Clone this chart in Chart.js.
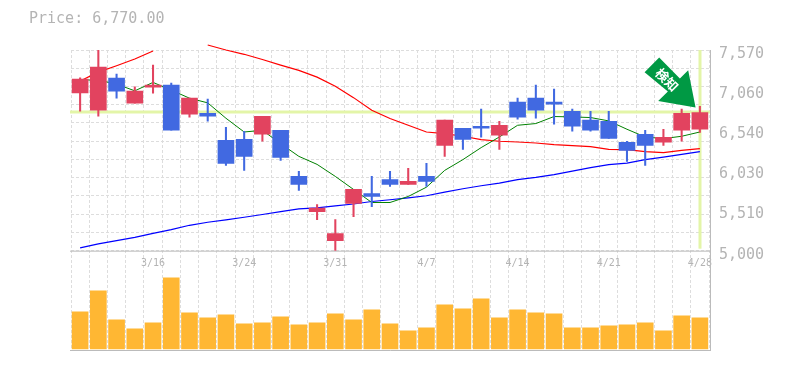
<!DOCTYPE html>
<html>
<head>
<meta charset="utf-8">
<style>html,body{margin:0;padding:0;background:#fff}canvas{display:block}</style>
<script src="https://cdn.jsdelivr.net/npm/chart.js@4"></script>
</head>
<body>
<canvas id="c" width="785" height="370"></canvas>
<script>
const dates = ["3/10","3/11","3/12","3/13","3/16","3/17","3/18","3/19","3/21","3/24","3/25","3/26","3/27","3/28","3/31","4/1","4/2","4/3","4/4","4/7","4/8","4/9","4/10","4/11","4/14","4/15","4/16","4/17","4/18","4/21","4/22","4/23","4/24","4/25","4/28"];
const shownDates = ["3/16","3/24","3/31","4/7","4/14","4/21","4/28"];
const open  = [7021,6799,7210,6889,7095,7120,6748,6760,6414,6426,6491,6542,5951,5501,5129,5604,5732,5912,5848,5951,6349,6568,6593,6478,6902,6953,6902,6786,6671,6658,6388,6491,6388,6542,6555];
const close = [7197,7352,7043,7043,7120,6542,6953,6722,6118,6208,6722,6195,5848,5544,5218,5784,5694,5848,5887,5887,6671,6426,6568,6606,6709,6799,6876,6593,6542,6439,6285,6349,6452,6760,6770];
const high  = [7214,7570,7262,7098,7377,7146,6953,6940,6581,6529,6722,6542,6015,5591,5398,5784,5951,6015,6054,6118,6671,6568,6812,6658,6953,7120,7069,6812,6786,6786,6401,6542,6555,6812,6850];
const low   = [6786,6722,6953,6889,7017,6542,6709,6658,6092,6028,6401,6157,5771,5398,5000,5437,5565,5822,5848,5822,6208,6298,6452,6298,6683,6696,6619,6529,6529,6439,6144,6092,6349,6401,6516];
const maShort = [7188,7184,7133,7047,7155,7056,6953,6893,6696,6520,6542,6371,6208,6105,5951,5784,5617,5617,5694,5813,6028,6166,6320,6456,6606,6628,6718,6713,6705,6662,6555,6456,6435,6465,6520];
const maMid = [7172,7287,7368,7454,7557,null,null,7634,7570,7515,7448,7377,7309,7223,7107,6960,6799,6692,6606,6520,6500,6465,6422,6401,6392,6379,6358,6345,6332,6298,6294,6268,6255,6285,6307];
const maLong = [5035,5086,5129,5171,5222,5270,5325,5364,5394,5428,5463,5501,5536,5549,5574,5598,5630,5652,5677,5703,5749,5793,5831,5865,5909,5938,5973,6019,6063,6101,6122,6166,6199,6234,6268];
const volume = [37,58,29,20,26,71,36,31,34,25,26,32,24,26,35,29,39,25,18,21,44,40,50,31,39,36,35,21,21,23,24,26,18,33,31];
const priceLabelValues = [5000,5514,6028,6542,7056,7570];
const priceLabels = ["5,000","5,510","6,030","6,540","7,060","7,570"];
const priceMin = 5000, priceMax = 7570, gridCount = 11;
const currentPrice = 6770;
const titleText = "Price: 6,770.00";
const arrowText = "検知";

const RED = "#E2435F", BLUE = "#4169E1", GRAY = "#BBBBBB", TEXT = "#B4B4B4", GRID = "#DDDDDD", HILITE = "#E3F5A8";
const candleColor = i => close[i] >= open[i] ? RED : BLUE;

const gridValues = [];
for (let k = 0; k <= gridCount; k++) gridValues.push(Math.round((priceMin + k * (priceMax - priceMin) / gridCount) * 1000) / 1000);
const yTicks = Array.from(new Set(gridValues.concat(priceLabelValues))).sort((a,b)=>a-b);

const frame = {
  id: "frame",
  beforeDatasetsDraw(chart) {
    const {ctx, chartArea: a, scales} = chart;
    const py = scales.y.getPixelForValue(currentPrice);
    const px = scales.x.getPixelForValue(dates[dates.length - 1]);
    const y0 = scales.y.getPixelForValue(priceMin);
    ctx.save();
    ctx.fillStyle = HILITE;
    ctx.fillRect(a.left - 1, Math.round(py) - 1.5, a.right - a.left + 2, 3);
    ctx.fillRect(Math.round(px) - 1.5, a.top, 3, y0 - a.top - 2);
    ctx.strokeStyle = GRAY; ctx.lineWidth = 1;
    ctx.beginPath();
    ctx.moveTo(a.left - 1, y0 + .5); ctx.lineTo(a.right + 1, y0 + .5);
    ctx.moveTo(a.left - 1, a.bottom - .5); ctx.lineTo(a.right + 1.5, a.bottom - .5);
    ctx.moveTo(a.right + 1.5, a.top); ctx.lineTo(a.right + 1.5, a.bottom);
    ctx.stroke();
    ctx.restore();
  },
  afterDatasetsDraw(chart) {
    const {ctx, scales} = chart;
    const last = dates.length - 1;
    const ax = scales.x.getPixelForValue(dates[last]);
    const ay = scales.y.getPixelForValue(high[last]);
    const outline = [[-40.7,-48.7],[-55.3,-34],[-32,-14.7],[-41.7,-5.3],[-4.3,1.3],[-11.7,-36],[-20,-27.7]];
    ctx.save();
    ctx.fillStyle = "#009944";
    ctx.beginPath();
    outline.forEach((p,i)=> i ? ctx.lineTo(ax+p[0], ay+p[1]) : ctx.moveTo(ax+p[0], ay+p[1]));
    ctx.closePath(); ctx.fill();
    ctx.translate(ax - 33, ay - 26.5);
    ctx.rotate(Math.PI / 4);
    ctx.fillStyle = "#fff";
    ctx.font = "bold 13px 'Noto Sans CJK JP'";
    ctx.textAlign = "center"; ctx.textBaseline = "middle";
    ctx.fillText(arrowText, 0, 0);
    ctx.restore();
    ctx.save();
    ctx.fillStyle = TEXT;
    ctx.font = "15px 'DejaVu Sans Mono'";
    ctx.textBaseline = "alphabetic";
    ctx.fillText(titleText, 29, 23);
    ctx.restore();
  }
};

new Chart(document.getElementById("c"), {
  type: "bar",
  plugins: [frame],
  data: {
    labels: dates,
    datasets: [
      {type:"bar", label:"Body", yAxisID:"y", order:0, grouped:false, barThickness:16, data:dates.map((d,i)=>[open[i],close[i]]), backgroundColor:dates.map((d,i)=>candleColor(i))},
      {type:"bar", label:"Wick", yAxisID:"y", order:1, grouped:false, barThickness:1.4, data:dates.map((d,i)=>[low[i],high[i]]), backgroundColor:dates.map((d,i)=>candleColor(i))},
      {type:"line", label:"MA short", yAxisID:"y", order:2, data:maShort, borderColor:"#008000", borderWidth:1, pointRadius:0, tension:0, spanGaps:false},
      {type:"line", label:"MA mid", yAxisID:"y", order:3, data:maMid, borderColor:"#FF0000", borderWidth:1.2, pointRadius:0, tension:0, spanGaps:false, clip:{left:0,right:0,bottom:0,top:6}},
      {type:"line", label:"MA long", yAxisID:"y", order:4, data:maLong, borderColor:"#0000FF", borderWidth:1.2, pointRadius:0, tension:0, spanGaps:false},
      {type:"bar", label:"Volume", yAxisID:"v", order:5, grouped:false, barThickness:16, data:volume, backgroundColor:"#FFB733"}
    ]
  },
  options: {
    responsive:false, maintainAspectRatio:false, animation:false,
    layout:{padding:{top:50,bottom:12,left:71,right:0}},
    plugins:{legend:{display:false},title:{display:false},tooltip:{enabled:false}},
    scales:{
      x:{
        type:"category", offset:true,
        position:{y:priceMin},
        grid:{display:true,offset:true,color:GRID,lineWidth:1,drawTicks:false},
        border:{display:false,dash:[3,2]},
        ticks:{autoSkip:false,maxRotation:0,minRotation:0,padding:7,color:TEXT,font:{family:"'DejaVu Sans Mono'",size:10},
          callback(v){const d=this.getLabelForValue(v);return shownDates.includes(d)?d:"";}}
      },
      y:{
        type:"linear", position:"right", stack:"p", stackWeight:2, min:priceMin, max:priceMax,
        afterBuildTicks(s){s.ticks=yTicks.map(v=>({value:v}));},
        afterFit(s){s.width=76;},
        grid:{color:c=>gridValues.includes(c.tick.value)?GRID:"rgba(0,0,0,0)",lineWidth:1,drawTicks:false},
        border:{display:false,dash:[3,2]},
        ticks:{autoSkip:false,padding:10,labelOffset:4,color:TEXT,font:{family:"'DejaVu Sans Mono'",size:15},
          callback(v){const i=priceLabelValues.indexOf(v);return i>=0?priceLabels[i]:"";}}
      },
      v:{
        type:"linear", position:"right", stack:"p", stackWeight:1, min:-2, max:98,
        afterFit(s){s.width=76;},
        grid:{display:false}, border:{display:false}, ticks:{display:false}
      }
    }
  }
});
</script>
</body>
</html>
